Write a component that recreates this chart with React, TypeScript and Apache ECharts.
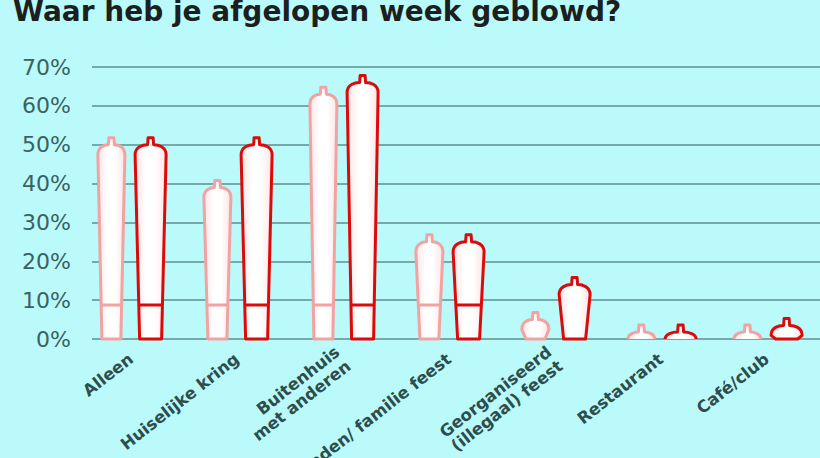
import React, { useEffect, useRef } from "react";
import * as echarts from "echarts";

const categories = [
  "Alleen",
  "Huiselijke kring",
  "Buitenhuis\nmet anderen",
  "Vrienden/ familie feest",
  "Georganiseerd\n(illegaal) feest",
  "Restaurant",
  "Café/club",
];
const lightValues = [50, 39, 63, 25, 5, 1, 1];
const darkValues = [50, 50, 66, 25, 14, 1.5, 3.5];
const yMin = 0;
const yMax = 70;
const yInterval = 10;
const titleText = "Waar heb je afgelopen week geblowd?";

function makeRender(sign: number, stroke: string, wTop: number, wBot: number, edge: string) {
  return (params: any, api: any) => {
    const i = api.value(0);
    const v = api.value(1);
    const base = api.coord([i, 0]);
    const top = api.coord([i, v]);
    const band = api.size([1, 0])[0];
    const cx = base[0] + sign * band * 0.185;
    const y0 = base[1];
    const yt = Math.min(top[1], y0 - 7);
    const ys = Math.min(yt + 10, y0);
    const ht = wTop / 2;
    const hb = wBot / 2;
    const tiny = ys >= y0 - 0.5;
    let d = "";
    if (tiny) {
      d = `M ${cx - ht} ${y0} C ${cx - ht} ${yt + 2} ${cx - ht / 2} ${yt} ${cx - 3} ${yt} L ${cx - 2.5} ${yt - 7} L ${cx + 2.5} ${yt - 7} L ${cx + 3} ${yt} C ${cx + ht / 2} ${yt} ${cx + ht} ${yt + 2} ${cx + ht} ${y0}`;
    } else {
      d = `M ${cx - hb} ${y0} L ${cx - ht} ${ys} C ${cx - ht} ${yt + 2} ${cx - ht / 2} ${yt} ${cx - 3} ${yt} L ${cx - 2.5} ${yt - 7} L ${cx + 2.5} ${yt - 7} L ${cx + 3} ${yt} C ${cx + ht / 2} ${yt} ${cx + ht} ${yt + 2} ${cx + ht} ${ys} L ${cx + hb} ${y0} Z`;
    }
    const children: any[] = [
      {
        type: "path",
        shape: { pathData: d },
        style: {
          fill: new echarts.graphic.LinearGradient(0, 0, 1, 0, [
            { offset: 0, color: edge },
            { offset: 0.35, color: "#ffffff" },
            { offset: 0.65, color: "#ffffff" },
            { offset: 1, color: edge },
          ]),
          stroke,
          lineWidth: 3,
          lineJoin: "round",
        },
      },
    ];
    if (v >= 20) {
      const yf = y0 - 34;
      const t = (y0 - yf) / (y0 - ys);
      const hw = hb + (ht - hb) * t;
      children.push({
        type: "line",
        shape: { x1: cx - hw, y1: yf, x2: cx + hw, y2: yf },
        style: { stroke, lineWidth: 3 },
      });
    }
    return { type: "group", children };
  };
}

export default function App() {
  const ref = useRef<HTMLDivElement>(null);
  useEffect(() => {
    if (!ref.current) return;
    const chart = echarts.init(ref.current, null, { renderer: "svg" });
    chart.setOption({
      animation: false,
      backgroundColor: "#bafafa",
      title: {
        text: titleText,
        left: 8,
        top: -8,
        textStyle: {
          fontFamily: "DejaVu Sans",
          fontWeight: "bold",
          fontSize: 28,
          color: "#1c1f1f",
        },
      },
      grid: [
        { left: 78, right: 0, top: 67, bottom: 119, outerBoundsMode: "none", containLabel: false },
        { left: 92, right: 0, top: 67, bottom: 119, outerBoundsMode: "none", containLabel: false },
      ],
      xAxis: [
        {
          type: "category",
          gridIndex: 0,
          data: categories,
          axisLine: { show: false },
          axisTick: { show: false },
          axisLabel: {
            rotate: 38,
            margin: 18,
            interval: 0,
            fontFamily: "DejaVu Sans",
            fontSize: 16.5,
            fontWeight: "bold",
            color: "#2e4d4d",
            lineHeight: 18,
          },
        },
        { type: "value", gridIndex: 1, min: 0, max: 1, show: false },
      ],
      yAxis: [
        { type: "value", gridIndex: 0, min: yMin, max: yMax, interval: yInterval, show: false },
        {
          type: "value",
          gridIndex: 1,
          min: yMin,
          max: yMax,
          interval: yInterval,
          axisLine: { show: false },
          axisTick: { show: false },
          axisLabel: {
            formatter: "{value}%",
            margin: 21,
            fontFamily: "DejaVu Sans",
            fontSize: 22,
            color: "#3a6262",
          },
          splitLine: { lineStyle: { color: "#5f8e8e", width: 1.5 } },
        },
      ],
      series: [
        {
          type: "custom",
          xAxisIndex: 0,
          yAxisIndex: 0,
          renderItem: makeRender(-1, "#f3a2a2", 27, 19, "#fde3e3"),
          data: lightValues.map((v, i) => [i, v]),
          z: 3,
        },
        {
          type: "custom",
          xAxisIndex: 0,
          yAxisIndex: 0,
          renderItem: makeRender(1, "#dc0b0b", 31, 22, "#fde3e3"),
          data: darkValues.map((v, i) => [i, v]),
          z: 3,
        },
      ],
    });
    return () => chart.dispose();
  }, []);
  return (
    <div
      ref={ref}
      style={{ position: "fixed", left: 0, top: 0, width: 820, height: 458 }}
    />
  );
}
